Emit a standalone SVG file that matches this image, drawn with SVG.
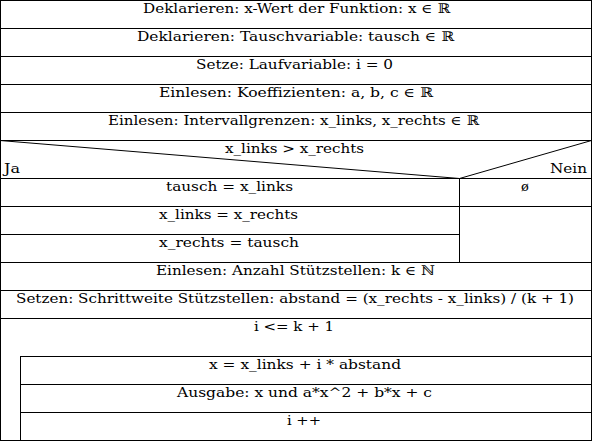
<svg xmlns="http://www.w3.org/2000/svg" width="592" height="441" viewBox="0 0 592 441">
<style>
.b{fill:none;stroke:#000;stroke-width:1}
.t{font-family:"DejaVu Serif","Liberation Serif",serif;font-size:13px;fill:#000;text-anchor:middle}
.l{text-anchor:start}
.r{text-anchor:end}
</style>
<rect x="0" y="0" width="592" height="441" fill="#fff"/>
<g id="s1"><rect class="b" x="0.5" y="0.5" width="591" height="28"/><text class="t" x="296.5" y="13" textLength="307" lengthAdjust="spacingAndGlyphs">Deklarieren: x-Wert der Funktion: x ∈ ℝ</text></g>
<g id="s2"><rect class="b" x="0.5" y="28.5" width="591" height="28"/><text class="t" x="295.5" y="41" textLength="317" lengthAdjust="spacingAndGlyphs">Deklarieren: Tauschvariable: tausch ∈ ℝ</text></g>
<g id="s3"><rect class="b" x="0.5" y="56.5" width="591" height="28"/><text class="t" x="294.5" y="69" textLength="197" lengthAdjust="spacingAndGlyphs">Setze: Laufvariable: i = 0</text></g>
<g id="s4"><rect class="b" x="0.5" y="84.5" width="591" height="28"/><text class="t" x="296" y="97" textLength="274" lengthAdjust="spacingAndGlyphs">Einlesen: Koeffizienten: a, b, c ∈ ℝ</text></g>
<g id="s5"><rect class="b" x="0.5" y="112.5" width="591" height="28"/><text class="t" x="293.5" y="125" textLength="371" lengthAdjust="spacingAndGlyphs">Einlesen: Intervallgrenzen: x_links, x_rechts ∈ ℝ</text></g>
<g id="if">
<rect class="b" x="0.5" y="140.5" width="591" height="38"/>
<text class="t" x="294.5" y="153" textLength="139" lengthAdjust="spacingAndGlyphs">x_links &gt; x_rechts</text>
<text class="t l" x="4" y="173" textLength="16" lengthAdjust="spacingAndGlyphs">Ja</text>
<text class="t r" x="587" y="173" textLength="37" lengthAdjust="spacingAndGlyphs">Nein</text>
</g>
<g id="ja1"><rect class="b" x="0.5" y="178.5" width="459" height="28"/><text class="t" x="229.5" y="191" textLength="127" lengthAdjust="spacingAndGlyphs">tausch = x_links</text></g>
<g id="ja2"><rect class="b" x="0.5" y="206.5" width="459" height="28"/><text class="t" x="228.5" y="219" textLength="139" lengthAdjust="spacingAndGlyphs">x_links = x_rechts</text></g>
<g id="ja3"><rect class="b" x="0.5" y="234.5" width="459" height="28"/><text class="t" x="229" y="247" textLength="140" lengthAdjust="spacingAndGlyphs">x_rechts = tausch</text></g>
<g id="nein1"><rect class="b" x="459.5" y="178.5" width="132" height="28"/><text class="t" x="525" y="191">ø</text></g>
<g id="nein2"><rect class="b" x="459.5" y="206.5" width="132" height="56"/></g>
<g id="s6"><rect class="b" x="0.5" y="262.5" width="591" height="28"/><text class="t" x="295.5" y="275" textLength="279" lengthAdjust="spacingAndGlyphs">Einlesen: Anzahl Stützstellen: k ∈ ℕ</text></g>
<g id="s7"><rect class="b" x="0.5" y="290.5" width="591" height="28"/><text class="t" x="295" y="303" textLength="558" lengthAdjust="spacingAndGlyphs">Setzen: Schrittweite Stützstellen: abstand = (x_rechts - x_links) / (k + 1)</text></g>
<g id="loop"><rect class="b" x="0.5" y="318.5" width="591" height="122"/><text class="t" x="294" y="331" textLength="80" lengthAdjust="spacingAndGlyphs">i &lt;= k + 1</text></g>
<g id="l1"><rect class="b" x="20.5" y="356.5" width="571" height="28"/><text class="t" x="305" y="369" textLength="192" lengthAdjust="spacingAndGlyphs">x = x_links + i * abstand</text></g>
<g id="l2"><rect class="b" x="20.5" y="384.5" width="571" height="28"/><text class="t" x="304.5" y="397" textLength="255" lengthAdjust="spacingAndGlyphs">Ausgabe: x und a*x^2 + b*x + c</text></g>
<g id="l3"><rect class="b" x="20.5" y="412.5" width="571" height="28"/><text class="t" x="304" y="425" textLength="34" lengthAdjust="spacingAndGlyphs">i ++</text></g>
<g id="connectors">
<line class="b" x1="0" y1="140.5" x2="459.5" y2="178.5"/>
<line class="b" x1="591.5" y1="140.5" x2="459.5" y2="178.5"/>
</g>
</svg>
